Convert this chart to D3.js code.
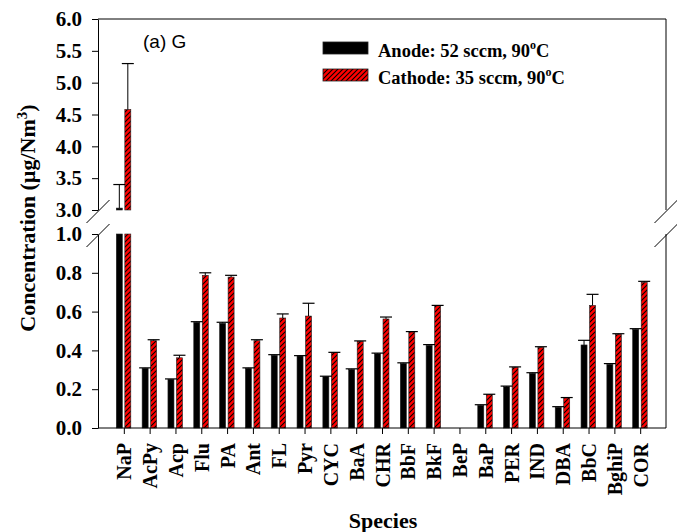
<!DOCTYPE html>
<html>
<head>
<meta charset="utf-8">
<script src="https://cdn.jsdelivr.net/npm/d3@7"></script>
<style>
  body { margin: 0; background: #fff; }
  svg { display: block; }
  .axis text { font-family: "Liberation Serif", "Times New Roman", serif; font-weight: bold; fill: #000; }
  .axis path, .axis line { stroke: #000; stroke-width: 1; }
</style>
</head>
<body>
<div id="chart"></div>
<script>
// species on the x axis
const species = ["NaP","AcPy","Acp","Flu","PA","Ant","FL","Pyr","CYC","BaA","CHR","BbF","BkF","BeP","BaP","PER","IND","DBA","BbC","BghiP","COR"];
// bar heights (ug/Nm3), BeP not detected
const anode   = [3.03,0.308,0.251,0.545,0.540,0.308,0.375,0.371,0.265,0.302,0.383,0.333,0.426,null,0.117,0.213,0.282,0.107,0.428,0.328,0.509];
const cathode = [4.58,0.450,0.362,0.787,0.778,0.450,0.567,0.577,0.388,0.447,0.562,0.495,0.630,null,0.172,0.313,0.416,0.155,0.632,0.483,0.751];
// top of the error bars
const anodeTop   = [3.40,0.310,0.253,0.548,0.545,0.310,0.378,0.373,0.267,0.305,0.386,0.336,0.430,null,0.120,0.216,0.285,0.110,0.452,0.332,0.512];
const cathodeTop = [5.30,0.455,0.375,0.800,0.787,0.455,0.588,0.643,0.390,0.449,0.572,0.497,0.632,null,0.174,0.315,0.419,0.157,0.689,0.486,0.756];
// axis ticks, the y axis is broken between 1.0 and 3.0
const upperTicks = [3.0,3.5,4.0,4.5,5.0,5.5,6.0];
const lowerTicks = [0.0,0.2,0.4,0.6,0.8,1.0];
const seriesNames = ["Anode: 52 sccm, 90", "Cathode: 35 sccm, 90"];

(function () {
  const margin = { top: 19, right: 11, bottom: 104, left: 98 };
  const width = 677 - margin.left - margin.right,
    height = 532 - margin.top - margin.bottom;
  const breakTop = 191, breakBottom = 215; // pixel ends of the two y segments

  const xScale = d3.scalePoint().domain(species).range([0, width]).padding(1);
  const yLow = d3.scaleLinear().domain([0, 1]).range([height, breakBottom]);
  const yUp = d3.scaleLinear().domain([3, 6]).range([breakTop, 0]);

  const svg = d3.select("#chart").append("svg")
    .attr("width", 677)
    .attr("height", 532);

  // red hatch
  const pat = svg.append("defs").append("pattern")
    .attr("id", "hatch")
    .attr("patternUnits", "userSpaceOnUse")
    .attr("width", 5).attr("height", 5);
  pat.append("rect").attr("width", 5).attr("height", 5).attr("fill", "#ff0000");
  pat.append("path")
    .attr("d", "M-1,1 l2,-2 M0,5 l5,-5 M4,6 l2,-2")
    .attr("stroke", "#000").attr("stroke-width", 1.1);

  const g = svg.append("g")
    .attr("transform", "translate(" + margin.left + "," + margin.top + ")");

  // build bar pieces from the arrays
  const bars = [];
  const errs = [];
  species.forEach((s, i) => {
    [[anode, anodeTop, -7.5, "#000"], [cathode, cathodeTop, 1, "url(#hatch)"]].forEach(([vals, tops, dx, fill]) => {
      const v = vals[i];
      if (v == null) return;
      const x0 = xScale(s) + dx;
      bars.push({ x: x0, y0: yLow(Math.min(v, 1)), y1: yLow(0), fill });
      if (v > 3) bars.push({ x: x0, y0: yUp(v), y1: yUp(3), fill });
      const t = tops[i];
      const yv = v > 3 ? yUp(v) : yLow(v);
      const yt = t > 3 ? yUp(t) : yLow(t);
      errs.push({ cx: x0 + 3, yv, yt });
    });
  });

  g.selectAll("rect.bar")
    .data(bars)
    .join("rect")
    .attr("class", "bar")
    .attr("x", d => d.x)
    .attr("y", d => d.y0)
    .attr("width", 6)
    .attr("height", d => d.y1 - d.y0)
    .attr("fill", d => d.fill)
    .attr("stroke", "#222")
    .attr("stroke-width", 0.6);

  const eg = g.selectAll("g.err").data(errs).join("g").attr("class", "err");
  eg.append("line")
    .attr("x1", d => d.cx).attr("x2", d => d.cx)
    .attr("y1", d => d.yv).attr("y2", d => d.yt)
    .attr("stroke", "#000").attr("stroke-width", 1);
  eg.append("line")
    .attr("x1", d => d.cx - 6).attr("x2", d => d.cx + 6)
    .attr("y1", d => d.yt).attr("y2", d => d.yt)
    .attr("stroke", "#000").attr("stroke-width", 1.2);

  // y axes (two segments)
  const fmt = d3.format(".1f");
  [[yLow, lowerTicks], [yUp, upperTicks]].forEach(([sc, tv]) => {
    g.append("g")
      .attr("class", "axis y-axis")
      .call(d3.axisLeft(sc).tickValues(tv).tickFormat(fmt).tickSize(6).tickSizeOuter(0).tickPadding(10))
      .selectAll("text").style("font-size", "21px");
  });

  // right frame and top frame
  g.append("line").attr("x1", width).attr("x2", width).attr("y1", 0).attr("y2", breakTop).attr("stroke", "#000");
  g.append("line").attr("x1", width).attr("x2", width).attr("y1", breakBottom).attr("y2", height).attr("stroke", "#000");
  g.append("line").attr("x1", 0).attr("x2", width).attr("y1", 0).attr("y2", 0).attr("stroke", "#000");

  // break marks
  [0, width].forEach(x => {
    [breakTop + 1.5, breakBottom + 1.5].forEach(y => {
      g.append("line")
        .attr("x1", x - 11.5).attr("y1", y + 11.5)
        .attr("x2", x + 11.5).attr("y2", y - 11.5)
        .attr("stroke", "#000").attr("stroke-width", 1);
    });
  });

  // x axis
  const xAxis = g.append("g")
    .attr("class", "axis x-axis")
    .attr("transform", "translate(0," + height + ")")
    .call(d3.axisBottom(xScale).tickSize(6).tickSizeOuter(0));
  xAxis.select(".domain").attr("d", "M0,0H" + width);
  xAxis.selectAll("text")
    .style("font-size", "20px")
    .attr("transform", "rotate(-90)")
    .attr("text-anchor", "end")
    .attr("x", -15)
    .attr("y", 0)
    .attr("dy", "0.35em");

  // axis titles
  const yTitle = svg.append("text")
    .attr("transform", "translate(35," + 218 + ") rotate(-90)")
    .attr("text-anchor", "middle")
    .style("font-family", "'Liberation Serif', serif")
    .style("font-weight", "bold")
    .style("font-size", "22px");
  yTitle.append("tspan").text("Concentration (\u00b5g/Nm");
  yTitle.append("tspan").attr("dy", -8).style("font-size", "15px").text("3");
  yTitle.append("tspan").attr("dy", 8).text(")");

  svg.append("text")
    .attr("x", 383).attr("y", 528)
    .attr("text-anchor", "middle")
    .style("font-family", "'Liberation Serif', serif")
    .style("font-weight", "bold")
    .style("font-size", "22px")
    .text("Species");

  // panel label
  svg.append("text")
    .attr("x", 143).attr("y", 48)
    .style("font-family", "'Liberation Sans', Arial, sans-serif")
    .style("font-size", "19px")
    .text("(a) G");

  // legend
  const legend = svg.append("g").attr("transform", "translate(323,42)");
  const lg = legend.selectAll("g").data(seriesNames).join("g")
    .attr("transform", (d, i) => "translate(0," + i * 27 + ")");
  lg.append("rect")
    .attr("width", 45).attr("height", 12)
    .attr("fill", (d, i) => i === 0 ? "#000" : "url(#hatch)")
    .attr("stroke", "#222").attr("stroke-width", 0.8);
  const lt = lg.append("text")
    .attr("x", 55).attr("y", 14.5)
    .style("font-family", "'Liberation Serif', serif")
    .style("font-weight", "bold")
    .style("font-size", "18.5px");
  lt.append("tspan").text(d => d);
  lt.append("tspan").attr("dy", -8).style("font-size", "12px").text("o");
  lt.append("tspan").attr("dy", 8).text("C");
})();
</script>
</body>
</html>
